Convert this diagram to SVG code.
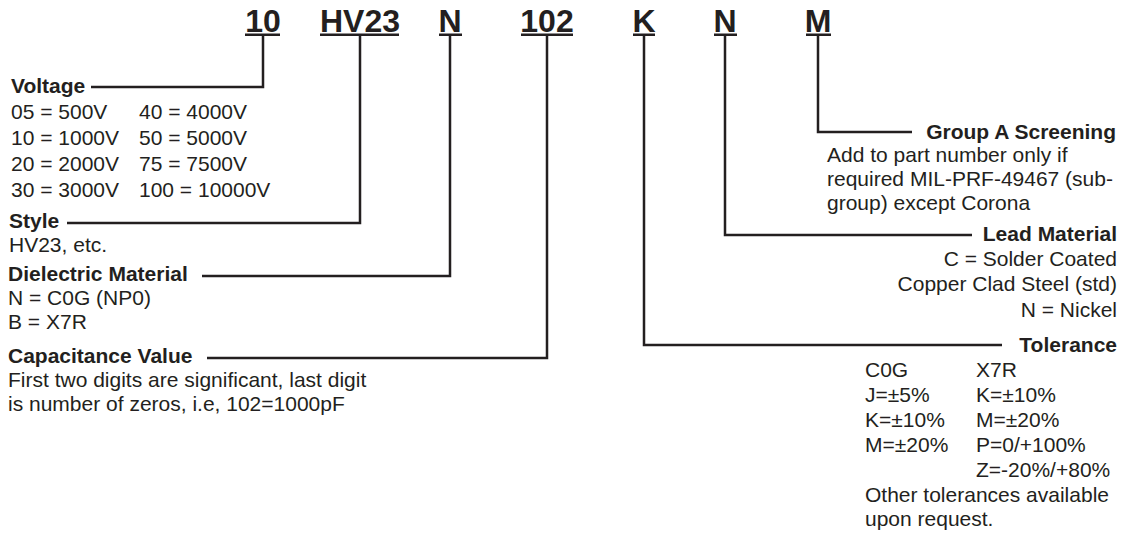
<svg xmlns="http://www.w3.org/2000/svg" width="1125" height="535" viewBox="0 0 1125 535">
<style>
text{font-family:"Liberation Sans",Arial,sans-serif;fill:#231f20;font-size:21px}
.code{font-size:32px;font-weight:bold;text-anchor:middle}
.b{font-weight:bold}
.r{text-anchor:end}
.ul{fill:#231f20}
.c{fill:none;stroke:#231f20;stroke-width:2.5}
</style>
<rect width="1125" height="535" fill="#fff"/>
<g id="codes">
<text class="code" x="263" y="32">10</text><rect class="ul" x="245" y="33.5" width="35" height="2.5"/>
<text class="code" x="360" y="32">HV23</text><rect class="ul" x="320" y="33.5" width="79" height="2.5"/>
<text class="code" x="450" y="32">N</text><rect class="ul" x="439" y="33.5" width="23" height="2.5"/>
<text class="code" x="547" y="32">102</text><rect class="ul" x="521" y="33.5" width="52" height="2.5"/>
<text class="code" x="644" y="32">K</text><rect class="ul" x="633" y="33.5" width="22" height="2.5"/>
<text class="code" x="725" y="32">N</text><rect class="ul" x="714" y="33.5" width="23" height="2.5"/>
<text class="code" x="818" y="32">M</text><rect class="ul" x="806" y="33.5" width="25" height="2.5"/>
</g>
<g id="connectors">
<polyline class="c" points="263,36 263,87 91,87"/>
<polyline class="c" points="360,36 360,223 67,223"/>
<polyline class="c" points="450,36 450,276 202,276"/>
<polyline class="c" points="547,36 547,358 207,358"/>
<polyline class="c" points="644,36 644,345 1002,345"/>
<polyline class="c" points="725,36 725,235 972,235"/>
<polyline class="c" points="818,36 818,132 912,132"/>
</g>
<g id="voltage">
<text class="b" x="11" y="93">Voltage</text>
<text x="11" y="119">05 = 500V</text><text x="139" y="119">40 = 4000V</text>
<text x="11" y="145">10 = 1000V</text><text x="139" y="145">50 = 5000V</text>
<text x="11" y="171">20 = 2000V</text><text x="139" y="171">75 = 7500V</text>
<text x="11" y="197">30 = 3000V</text><text x="139" y="197">100 = 10000V</text>
</g>
<g id="style">
<text class="b" x="9" y="228">Style</text>
<text x="9" y="252">HV23, etc.</text>
</g>
<g id="dielectric">
<text class="b" x="8" y="281">Dielectric Material</text>
<text x="8" y="305">N = C0G (NP0)</text>
<text x="8" y="329">B = X7R</text>
</g>
<g id="capacitance">
<text class="b" x="8" y="363">Capacitance Value</text>
<text x="8" y="387">First two digits are significant, last digit</text>
<text x="8" y="411">is number of zeros, i.e, 102=1000pF</text>
</g>
<g id="screening">
<text class="b r" x="1116" y="139">Group A Screening</text>
<text x="827" y="162">Add to part number only if</text>
<text x="827" y="186">required MIL-PRF-49467 (sub-</text>
<text x="827" y="210">group) except Corona</text>
</g>
<g id="lead">
<text class="b r" x="1117" y="241">Lead Material</text>
<text class="r" x="1117" y="266">C = Solder Coated</text>
<text class="r" x="1117" y="291">Copper Clad Steel (std)</text>
<text class="r" x="1117" y="317">N = Nickel</text>
</g>
<g id="tolerance">
<text class="b r" x="1117" y="352">Tolerance</text>
<text x="865" y="377">C0G</text><text x="976" y="377">X7R</text>
<text x="865" y="402">J=±5%</text><text x="976" y="402">K=±10%</text>
<text x="865" y="427">K=±10%</text><text x="976" y="427">M=±20%</text>
<text x="865" y="452">M=±20%</text><text x="976" y="452">P=0/+100%</text>
<text x="976" y="477">Z=-20%/+80%</text>
<text x="865" y="502">Other tolerances available</text>
<text x="865" y="526">upon request.</text>
</g>
</svg>
